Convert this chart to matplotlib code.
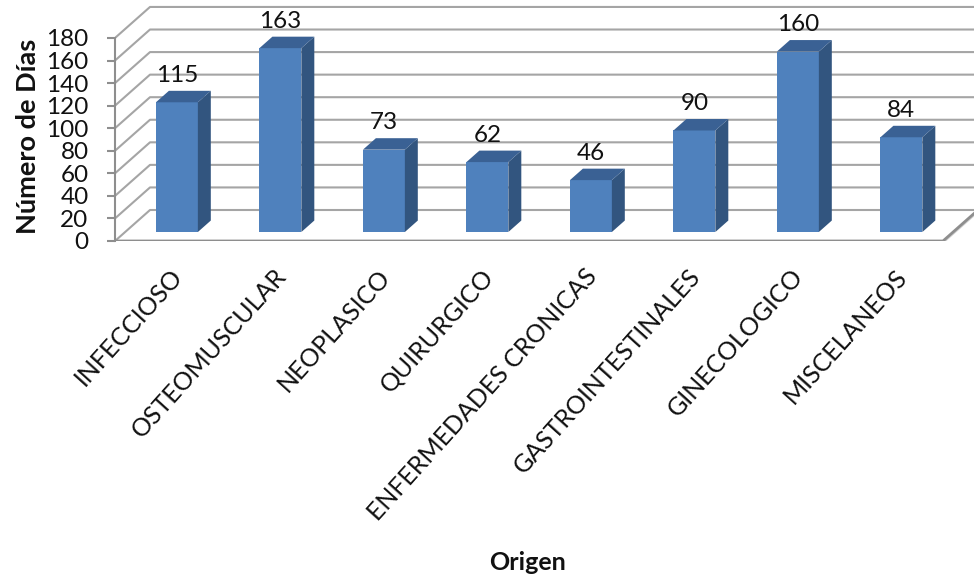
import matplotlib
matplotlib.use("Agg")
import matplotlib.pyplot as plt
from matplotlib.patches import Polygon

# Days per origin category
categories = ["INFECCIOSO", "OSTEOMUSCULAR", "NEOPLASICO", "QUIRURGICO",
              "ENFERMEDADES CRONICAS", "GASTROINTESTINALES", "GINECOLOGICO",
              "MISCELANEOS"]
values = [115, 163, 73, 62, 46, 90, 160, 84]
y_ticks = [0, 20, 40, 60, 80, 100, 120, 140, 160, 180]

plt.rcParams['font.family'] = ['Lato', 'DejaVu Sans']

W, H = 974, 578
fig = plt.figure(figsize=(W / 100, H / 100), dpi=100)

# pixel geometry of the front plane
x0_px, y0_px = 115, 241          # front-left corner of the floor
cat_px = 103.5                   # width of one category slot
unit_px = 1.128                  # pixels per day on the value axis
top_px, right_px = 5, 980

ax = fig.add_axes([x0_px / W, (H - y0_px) / H,
                   (right_px - x0_px) / W, (y0_px - top_px) / H])
ax.set_xlim(-0.5, (right_px - x0_px) / cat_px - 0.5)
ax.set_ylim(0, (y0_px - top_px) / unit_px)

# oblique depth offset (full depth of the box) in data units
DX = 35 / cat_px
DY = 31 / unit_px
n = len(categories)
xl, xr = -0.5, n - 0.5

grid_c = '#A5A5A5'
# side wall + back wall grid lines
for v in y_ticks:
    ax.plot([xl, xl + DX, xr + DX], [v, v + DY, v + DY],
            color=grid_c, lw=1.5, zorder=1, solid_capstyle='butt')
# floor outline
ax.plot([xl, xr, xr + DX], [0, 0, DY], color='#8E8E8E', lw=2.0, zorder=1)
ax.plot([xl, xr], [-0.9, -0.9], color='#D0D0D0', lw=1.2, zorder=0.9)
ax.plot([xr + 0.01, xr + DX + 0.01], [-0.9, DY - 0.9], color='#D0D0D0', lw=1.2, zorder=0.9)

# 3D bars
d0, d1 = 0.29, 0.66
bw = 0.405
front_c, side_c, top_c = '#4F81BD', '#32557F', '#3A6194'
base = d0 * DY
shift = d0 * DX
ddx = (d1 - d0) * DX
ddy = (d1 - d0) * DY
xs = [i + shift for i in range(n)]
ax.bar(xs, values, width=bw, bottom=base, color=front_c, zorder=3, linewidth=0)
for x, v in zip(xs, values):
    right = x + bw / 2
    left = x - bw / 2
    side = Polygon([(right, base), (right + ddx, base + ddy),
                    (right + ddx, base + ddy + v), (right, base + v)],
                   closed=True, facecolor=side_c, edgecolor='none', zorder=3)
    top = Polygon([(left, base + v), (right, base + v),
                   (right + ddx, base + ddy + v), (left + ddx, base + ddy + v)],
                  closed=True, facecolor=top_c, edgecolor='none', zorder=3)
    ax.add_patch(side)
    ax.add_patch(top)
    ax.text(x, base + v + 24, f"{v}", ha='center', va='center',
            fontsize=17.5, color='#111111', zorder=4)

# axes styling
for s in ['top', 'right', 'bottom']:
    ax.spines[s].set_visible(False)
ax.spines['left'].set_bounds(0, 180)
ax.spines['left'].set_color('#8E8E8E')
ax.spines['left'].set_linewidth(1.5)
ax.set_yticks(y_ticks)
ax.set_yticklabels([str(t) for t in y_ticks], fontsize=17.5, color='#111111')
ax.tick_params(axis='y', length=6, width=1.5, color='#8E8E8E', pad=13)

ax.set_xticks([i + 0.03 for i in range(n)])
ax.set_xticklabels(categories, fontsize=18, color='#111111',
                   rotation=48, ha='right', rotation_mode='anchor')
ax.tick_params(axis='x', length=0, pad=17)

fig.text(28 / W, 1 - 136 / H, "Número de Días", rotation=90, ha='center',
         va='center', fontsize=19.5, fontweight='bold', color='#111111')
fig.text(528 / W, 1 - 562 / H, "Origen", ha='center', va='center',
         fontsize=18, fontweight='bold', color='#111111')

fig.savefig("out.png", dpi=100, facecolor='white')
